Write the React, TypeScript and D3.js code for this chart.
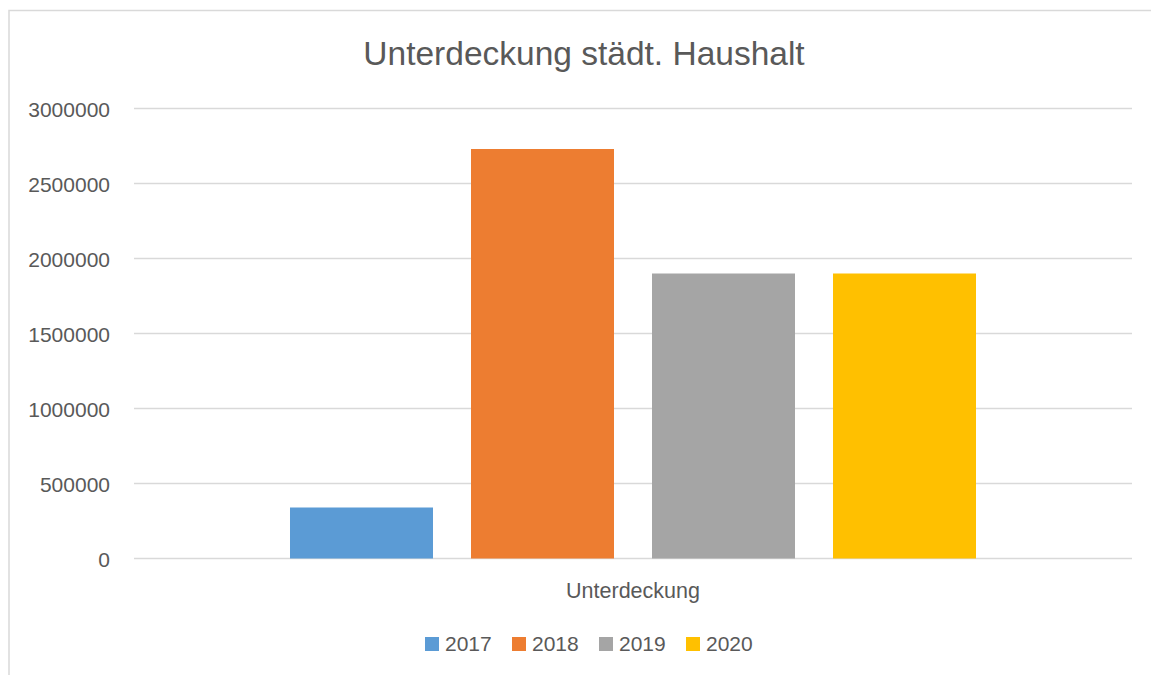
import React from 'react';
import * as d3 from 'd3';

const category = 'Unterdeckung';
const years = ['2017', '2018', '2019', '2020'];
const values = [340000, 2730000, 1900000, 1900000];
const colors = ['#5b9bd5', '#ed7d31', '#a5a5a5', '#ffc000'];
const yTicks = [0, 500000, 1000000, 1500000, 2000000, 2500000, 3000000];

const W = 1151, H = 675;
const FONT = '"Liberation Sans", Arial, sans-serif';
const TXT = '#595959';

export default function App() {
  const margin = { left: 134, right: 19, top: 108.5, bottom: 116.5 };
  const y = d3.scaleLinear().domain([0, 3000000]).range([H - margin.bottom, margin.top]);
  const x0 = d3.scaleBand<string>().domain([category]).range([margin.left, W - margin.right])
    .paddingInner(0).paddingOuter(0.2274);
  const x1 = d3.scaleBand<string>().domain(years).range([0, x0.bandwidth()]).paddingInner(0.21).paddingOuter(0);

  const legendX = d3.scalePoint<string>().domain(years).range([425, 686]);

  return (
    <svg width={W} height={H} style={{ position: 'absolute', left: 0, top: 0, display: 'block', background: '#fff' }}>
      <rect x={9} y={10.5} width={1160} height={680} fill="#fff" stroke="#d9d9d9" strokeWidth={1.5} />
      <text x={584} y={65} textAnchor="middle" fontFamily={FONT} fontSize={33.5} fill={TXT}>
        Unterdeckung städt. Haushalt
      </text>
      {yTicks.map(t => (
        <g key={t}>
          <line x1={margin.left} x2={W - margin.right} y1={y(t)} y2={y(t)} stroke="#d9d9d9" strokeWidth={1.5} />
          <text x={110} y={y(t) + 8} textAnchor="end" fontFamily={FONT} fontSize={21} fill={TXT}>{t}</text>
        </g>
      ))}
      {years.map((yr, i) => (
        <rect key={yr} x={(x0(category) ?? 0) + (x1(yr) ?? 0)} y={y(values[i])}
          width={x1.bandwidth()} height={y(0) - y(values[i])} fill={colors[i]} />
      ))}
      <text x={(x0(category) ?? 0) + x0.bandwidth() / 2} y={598} textAnchor="middle" fontFamily={FONT} fontSize={21.5} fill={TXT}>
        {category}
      </text>
      {years.map((yr, i) => (
        <g key={yr} transform={`translate(${legendX(yr)},637)`}>
          <rect width={14} height={14} fill={colors[i]} />
          <text x={20} y={14} fontFamily={FONT} fontSize={21} fill={TXT}>{yr}</text>
        </g>
      ))}
    </svg>
  );
}
